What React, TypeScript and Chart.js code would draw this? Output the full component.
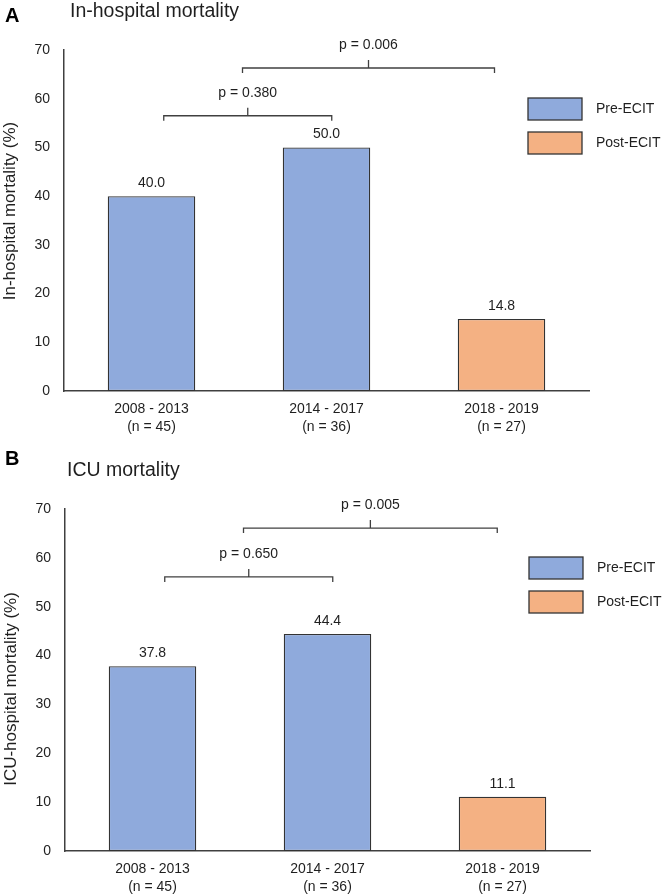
import React, { useEffect, useRef } from "react";
import { Chart, registerables } from "chart.js";

Chart.register(...registerables);

// ---------- data ----------
const categories: string[][] = [
  ["2008 - 2013", "(n = 45)"],
  ["2014 - 2017", "(n = 36)"],
  ["2018 - 2019", "(n = 27)"],
];
const periodGroup = ["Pre-ECIT", "Pre-ECIT", "Post-ECIT"];
const legendLabels = ["Pre-ECIT", "Post-ECIT"];
const inHospitalMortality = [40.0, 50.0, 14.8];
const icuMortality = [37.8, 44.4, 11.1];
const yMax = 70;
const yStep = 10;

type Bracket = { from: number; to: number; y: number; label: string };
const inHospitalBrackets: Bracket[] = [
  { from: 0.07, to: 1.03, y: 56.5, label: "p = 0.380" },
  { from: 0.52, to: 1.96, y: 66.3, label: "p = 0.006" },
];
const icuBrackets: Bracket[] = [
  { from: 0.07, to: 1.03, y: 56.1, label: "p = 0.650" },
  { from: 0.52, to: 1.97, y: 66.1, label: "p = 0.005" },
];

// ---------- styles ----------
const FONT = "'Liberation Sans', Arial, sans-serif";
const TEXT = "#1f1f1f";
const AXIS = "#404040";
const groupColors: Record<string, string> = {
  "Pre-ECIT": "#8FAADC",
  "Post-ECIT": "#F4B183",
};
const BAR_BORDER = "#333333";

type PanelCfg = {
  letter: string;
  title: string;
  yTitle: string;
  values: number[];
  brackets: Bracket[];
  canvasTop: number;
  height: number;
  areaTop: number;
  areaBottom: number;
  areaLeft: number;
  areaRight: number;
  letterBaseline: number;
  titleX: number;
  titleBaseline: number;
  yTitleX: number;
  yTitleY: number;
};

const panels: PanelCfg[] = [
  {
    letter: "A",
    title: "In-hospital mortality",
    yTitle: "In-hospital mortality (%)",
    values: inHospitalMortality,
    brackets: inHospitalBrackets,
    canvasTop: 0,
    height: 440,
    areaTop: 50,
    areaBottom: 391,
    areaLeft: 64,
    areaRight: 589,
    letterBaseline: 22,
    titleX: 70,
    titleBaseline: 17,
    yTitleX: 10,
    yTitleY: 211,
  },
  {
    letter: "B",
    title: "ICU mortality",
    yTitle: "ICU-hospital mortality (%)",
    values: icuMortality,
    brackets: icuBrackets,
    canvasTop: 440,
    height: 456,
    areaTop: 69,
    areaBottom: 411,
    areaLeft: 65,
    areaRight: 590,
    letterBaseline: 25,
    titleX: 67,
    titleBaseline: 36,
    yTitleX: 11,
    yTitleY: 249,
  },
];

const WIDTH = 666;

function Panel({ cfg }: { cfg: PanelCfg }) {
  const ref = useRef<HTMLCanvasElement | null>(null);

  useEffect(() => {
    if (!ref.current) return;

    const decor = {
      id: "panelDecor",
      afterDraw(chart: any) {
        const ctx = chart.ctx as CanvasRenderingContext2D;
        const xs = chart.scales.x;
        const ys = chart.scales.y;
        const area = chart.chartArea;
        const meta = chart.getDatasetMeta(0);
        ctx.save();

        // panel letter and title
        ctx.fillStyle = "#000";
        ctx.textAlign = "left";
        ctx.textBaseline = "alphabetic";
        ctx.font = `bold 20px ${FONT}`;
        ctx.fillText(cfg.letter, 5, cfg.letterBaseline);
        ctx.fillStyle = TEXT;
        ctx.font = `19.5px ${FONT}`;
        ctx.fillText(cfg.title, cfg.titleX, cfg.titleBaseline);

        // y-axis title
        ctx.save();
        ctx.translate(cfg.yTitleX, cfg.yTitleY);
        ctx.rotate(-Math.PI / 2);
        ctx.textAlign = "center";
        ctx.textBaseline = "middle";
        ctx.font = `17px ${FONT}`;
        ctx.fillText(cfg.yTitle, 0, 0);
        ctx.restore();

        // value labels
        ctx.font = `14px ${FONT}`;
        ctx.textAlign = "center";
        ctx.textBaseline = "alphabetic";
        meta.data.forEach((bar: any, i: number) => {
          ctx.fillText(cfg.values[i].toFixed(1), bar.x, bar.y - 9);
        });

        // brackets
        ctx.strokeStyle = AXIS;
        ctx.lineWidth = 1.3;
        cfg.brackets.forEach((b) => {
          const x1 = xs.getPixelForValue(b.from);
          const x2 = xs.getPixelForValue(b.to);
          const yy = ys.getPixelForValue(b.y);
          const cx = (x1 + x2) / 2;
          ctx.beginPath();
          ctx.moveTo(x1, yy + 5);
          ctx.lineTo(x1, yy);
          ctx.lineTo(x2, yy);
          ctx.lineTo(x2, yy + 5);
          ctx.moveTo(cx, yy);
          ctx.lineTo(cx, yy - 8);
          ctx.stroke();
          ctx.fillStyle = TEXT;
          ctx.fillText(b.label, cx, yy - 19);
        });

        // legend
        ctx.textAlign = "left";
        ctx.textBaseline = "middle";
        legendLabels.forEach((lab, i) => {
          const bx = area.right - 61;
          const by = area.top + 48 + i * 34;
          ctx.fillStyle = groupColors[lab];
          ctx.fillRect(bx, by, 54, 22);
          ctx.strokeStyle = BAR_BORDER;
          ctx.lineWidth = 1.3;
          ctx.strokeRect(bx, by, 54, 22);
          ctx.fillStyle = TEXT;
          ctx.fillText(lab, bx + 68, by + 11);
        });

        ctx.restore();
      },
    };

    const chart = new Chart(ref.current, {
      type: "bar",
      data: {
        labels: categories,
        datasets: [
          {
            data: cfg.values,
            backgroundColor: periodGroup.map((g) => groupColors[g]),
            borderColor: BAR_BORDER,
            borderWidth: 1.3,
            borderSkipped: false,
            categoryPercentage: 1,
            barPercentage: 0.5,
          },
        ],
      },
      options: {
        responsive: false,
        animation: false,
        devicePixelRatio: 1,
        layout: {
          padding: {
            top: cfg.areaTop,
            left: 0,
            right: WIDTH - cfg.areaRight,
            bottom: 0,
          },
        },
        plugins: {
          legend: { display: false },
          tooltip: { enabled: false },
          title: { display: false },
        },
        scales: {
          x: {
            grid: { display: false, drawTicks: false },
            border: { display: true, color: AXIS, width: 1.5 },
            ticks: {
              color: TEXT,
              padding: 9,
              maxRotation: 0,
              autoSkip: false,
              font: { family: FONT, size: 14, lineHeight: 1.3 },
            },
            afterFit: (s: any) => {
              s.height = cfg.height - cfg.areaBottom;
            },
          },
          y: {
            min: 0,
            max: yMax,
            grid: { display: false, drawTicks: false },
            border: { display: true, color: AXIS, width: 1.5 },
            ticks: {
              stepSize: yStep,
              color: TEXT,
              padding: 14,
              font: { family: FONT, size: 14 },
            },
            title: { display: false },
            afterFit: (s: any) => {
              s.width = cfg.areaLeft;
            },
          },
        },
      },
      plugins: [decor],
    });

    return () => chart.destroy();
  }, [cfg]);

  return (
    <canvas
      ref={ref}
      width={WIDTH}
      height={cfg.height}
      style={{
        position: "absolute",
        left: 0,
        top: cfg.canvasTop,
        width: WIDTH,
        height: cfg.height,
        display: "block",
      }}
    />
  );
}

export default function App() {
  return (
    <div
      style={{
        position: "absolute",
        left: 0,
        top: 0,
        width: WIDTH,
        height: 896,
        background: "#fff",
      }}
    >
      {panels.map((p) => (
        <Panel key={p.letter} cfg={p} />
      ))}
    </div>
  );
}
